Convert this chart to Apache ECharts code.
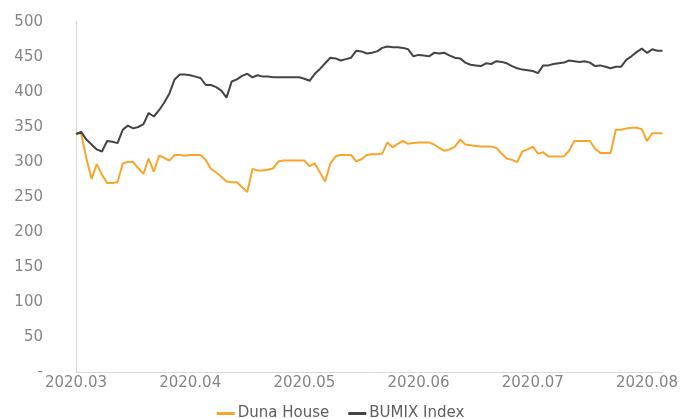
<!DOCTYPE html>
<html>
<head>
<meta charset="utf-8">
<script src="https://cdn.jsdelivr.net/npm/echarts@6/dist/echarts.min.js"></script>
<style>
html,body{margin:0;padding:0;background:#fff;}
#chart{width:681px;height:419px;}
</style>
</head>
<body>
<div id="chart"></div>
<script>
const tickLabels = ['2020.03','2020.04','2020.05','2020.06','2020.07','2020.08'];
const labelEvery = 22;
const seriesNames = ['Duna House','BUMIX Index'];
const dunaHouse = [
340,341,305,276,297,282,270,270,271,298,
300,300,291,283,305,286,309,306,302,310,
310,309,310,310,310,303,290,285,279,272,
271,271,264,257,290,288,288,289,291,301,
302,302,302,302,302,294,298,285,272,298,
308,310,310,310,301,304,310,311,311,312,
328,321,326,330,326,327,328,328,328,325,
320,316,318,322,332,325,324,323,322,322,
322,320,312,305,303,300,315,318,322,312,
314,308,308,308,308,316,330,330,330,330,
319,313,313,313,346,346,348,349,349,347,
330,341,341,341
];
const bumix = [
340,343,332,325,318,315,330,329,327,346,
352,348,350,354,370,365,374,385,398,418,
425,425,424,422,420,410,410,407,402,392,
415,418,423,426,421,424,422,422,421,421,
421,421,421,421,419,416,426,433,441,449,
448,445,447,449,459,458,455,456,458,463,
465,464,464,463,461,451,453,452,451,456,
455,456,452,449,448,442,439,438,437,441,
440,444,443,441,437,434,432,431,430,427,
438,438,440,441,442,445,444,443,444,442,
437,438,436,434,436,436,446,451,457,462,
456,461,459,459
];
const categories = dunaHouse.map((_, i) => (i % labelEvery === 0 && tickLabels[i / labelEvery]) ? tickLabels[i / labelEvery] : String(i));

const chart = echarts.init(document.getElementById('chart'));
const font = 'DejaVu Sans';
chart.setOption({
  animation: false,
  textStyle: {fontFamily: font},
  grid: {left: 76, right: 14, top: 22, bottom: 47},
  legend: {
    data: seriesNames,
    bottom: -7,
    left: 'center',
    icon: 'rect',
    itemWidth: 18,
    itemHeight: 3,
    itemGap: 19,
    textStyle: {fontFamily: font, fontSize: 15, color: '#5f5f5f', padding: [0,0,0,-2]}
  },
  xAxis: {
    type: 'category',
    data: categories,
    boundaryGap: false,
    axisLine: {lineStyle: {color: '#d9d9d9', width: 1}},
    axisTick: {show: false},
    axisLabel: {
      interval: labelEvery - 1,
      color: '#858585',
      fontFamily: font,
      fontSize: 15,
      margin: 4,
      formatter: v => tickLabels.includes(v) ? v : ''
    },
    splitLine: {show: false}
  },
  yAxis: {
    type: 'value',
    min: 0,
    max: 500,
    interval: 50,
    axisLine: {show: true, lineStyle: {color: '#d9d9d9', width: 1}},
    axisTick: {show: false},
    splitLine: {show: false},
    axisLabel: {
      color: '#858585',
      fontFamily: font,
      fontSize: 15,
      margin: 33,
      formatter: v => v === 0 ? '-' : String(v)
    }
  },
  series: [
    {
      name: seriesNames[0],
      type: 'line',
      data: dunaHouse,
      symbol: 'none',
      lineStyle: {color: '#F9A52C', width: 2},
      itemStyle: {color: '#F9A52C'}
    },
    {
      name: seriesNames[1],
      type: 'line',
      data: bumix,
      symbol: 'none',
      lineStyle: {color: '#444444', width: 2},
      itemStyle: {color: '#444444'}
    }
  ]
});
</script>
</body>
</html>
